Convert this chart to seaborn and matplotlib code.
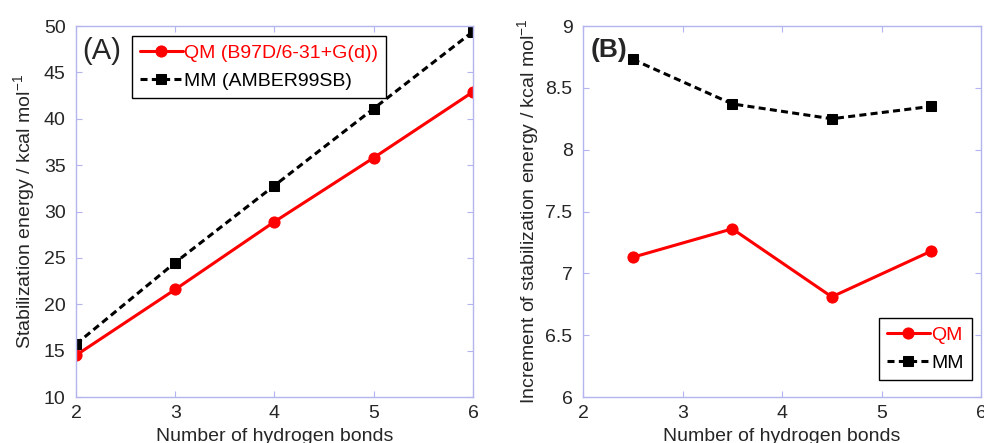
import pandas as pd
import seaborn as sns
import matplotlib.pyplot as plt

# panel A: stabilization energy vs number of hydrogen bonds
n_hb = [2, 3, 4, 5, 6]
qm_energy = [14.5, 21.6, 28.9, 35.8, 42.9]
mm_energy = [15.7, 24.5, 32.8, 41.1, 49.4]

# panel B: increment of stabilization energy
n_hb_mid = [2.5, 3.5, 4.5, 5.5]
qm_incr = [7.13, 7.36, 6.81, 7.18]
mm_incr = [8.73, 8.37, 8.25, 8.35]

sns.set_style('ticks')
plt.rcParams['font.family'] = ['Liberation Sans', 'DejaVu Sans']
plt.rcParams['mathtext.default'] = 'regular'

SPINE = '#b4b4ee'
RED = '#ff0000'
FS = 14

fig = plt.figure(figsize=(9.84, 4.43), dpi=100)
ax_a = fig.add_axes([0.0772, 0.1038, 0.4035, 0.8375])
ax_b = fig.add_axes([0.5925, 0.1038, 0.4045, 0.8375])

dfa = pd.DataFrame({'x': n_hb, 'qm': qm_energy, 'mm': mm_energy})
dfb = pd.DataFrame({'x': n_hb_mid, 'qm': qm_incr, 'mm': mm_incr})


def draw(ax, df, qm_label, mm_label):
    sns.lineplot(data=df, x='x', y='qm', ax=ax, color=RED, marker='o',
                 markersize=8, markeredgecolor=RED, linewidth=2.2,
                 label=qm_label)
    sns.lineplot(data=df, x='x', y='mm', ax=ax, color='black', marker='s',
                 markersize=7.5, markeredgecolor='black', linewidth=2.2,
                 label=mm_label)
    ax.lines[-1].set_dashes([2.3, 1.4])
    for s in ax.spines.values():
        s.set_color(SPINE)
        s.set_linewidth(1)
    ax.tick_params(direction='in', length=4, color=SPINE, labelsize=FS,
                   top=True, right=True)
    ax.tick_params(axis='x', pad=6)
    ax.tick_params(axis='y', pad=7.5)
    ax.set_xlabel('Number of hydrogen bonds', fontsize=FS, labelpad=4)


def legend(ax, **kw):
    leg = ax.legend(fontsize=FS, labelcolor='linecolor', fancybox=False,
                    framealpha=1, edgecolor='black', handlelength=2.2,
                    handletextpad=0.1, borderpad=0.4, labelspacing=0.55,
                    borderaxespad=0, **kw)
    leg.get_frame().set_linewidth(1)
    # make the legend dashes follow the line dashes
    for h in leg.legend_handles[1:]:
        h.set_dashes([2.3, 1.4])


draw(ax_a, dfa, 'QM (B97D/6-31+G(d))', 'MM (AMBER99SB)')
ax_a.set_xlim(2, 6)
ax_a.set_ylim(10, 50)
ax_a.set_xticks([2, 3, 4, 5, 6])
ax_a.set_yticks(range(10, 51, 5))
ax_a.set_ylabel('Stabilization energy / kcal mol$^{-1}$', fontsize=FS, labelpad=5)
legend(ax_a, loc='upper left', bbox_to_anchor=(0.141, 0.972))
ax_a.text(0.016, 0.932, '(A)', transform=ax_a.transAxes, fontsize=21,
          va='center', ha='left')

draw(ax_b, dfb, 'QM', 'MM')
ax_b.set_xlim(2, 6)
ax_b.set_ylim(6, 9)
ax_b.set_xticks([2, 3, 4, 5, 6])
ax_b.set_yticks([6, 6.5, 7, 7.5, 8, 8.5, 9])
ax_b.set_yticklabels(['6', '6.5', '7', '7.5', '8', '8.5', '9'])
ax_b.set_ylabel('Increment of stabilization energy / kcal mol$^{-1}$',
                fontsize=FS, labelpad=3)
legend(ax_b, loc='lower right', bbox_to_anchor=(0.977, 0.046))
ax_b.text(0.02, 0.935, '(B)', transform=ax_b.transAxes, fontsize=19,
          va='center', ha='left', fontweight='bold')

fig.savefig('out.png', dpi=100)
